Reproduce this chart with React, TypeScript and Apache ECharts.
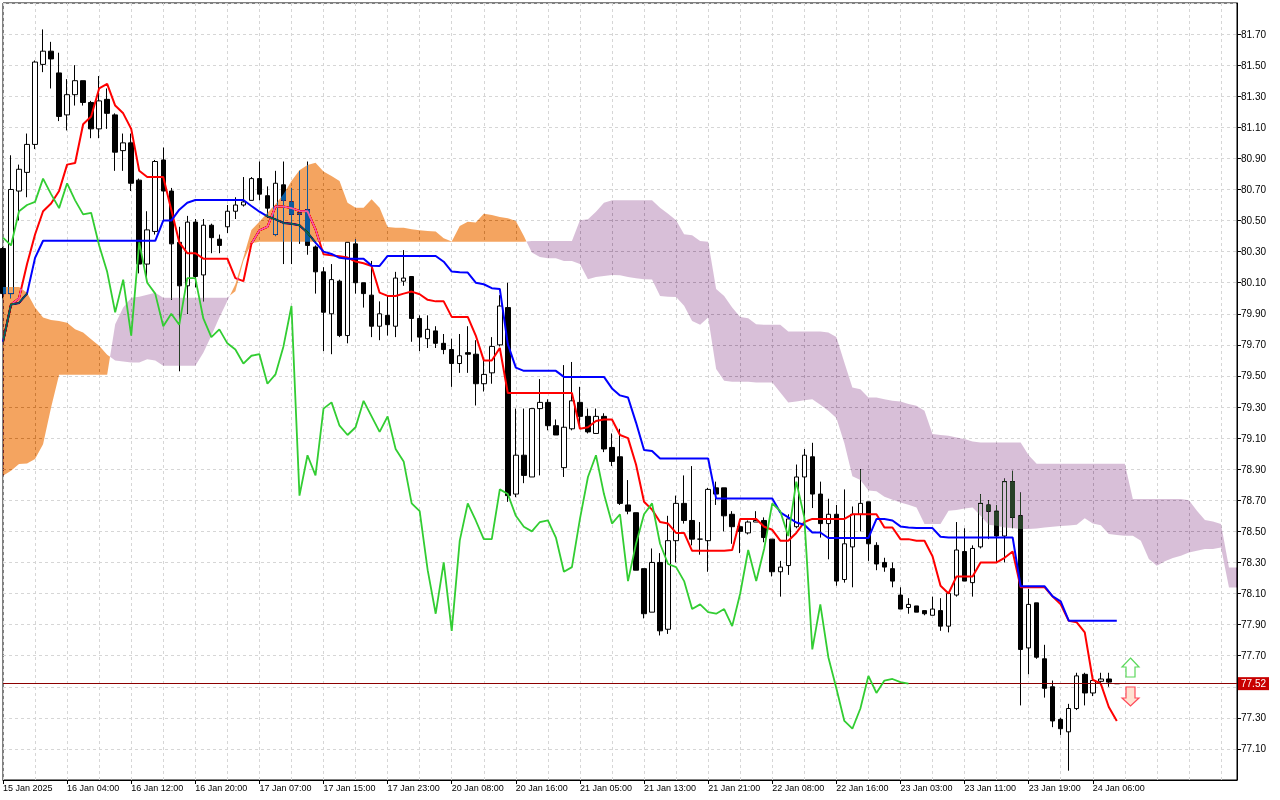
import React, { useEffect, useRef } from "react";
import * as echarts from "echarts";

// ---- time axis ----
const tickBars = [0, 8, 16, 24, 32, 40, 48, 56, 64, 72, 80, 88, 96, 104, 112, 120, 128, 136];
const tickLabels = [
  "15 Jan 2025", "16 Jan 04:00", "16 Jan 12:00", "16 Jan 20:00", "17 Jan 07:00", "17 Jan 15:00",
  "17 Jan 23:00", "20 Jan 08:00", "20 Jan 16:00", "21 Jan 05:00", "21 Jan 13:00", "21 Jan 21:00",
  "22 Jan 08:00", "22 Jan 16:00", "23 Jan 03:00", "23 Jan 11:00", "23 Jan 19:00", "24 Jan 06:00",
];
const totalBars = 155; // 140 price bars + cloud projected ahead

// ---- candles (H1) ----
const opens = [
  80.32, 80.03, 80.69, 80.81, 80.99, 81.505, 81.59, 81.45, 81.18, 81.31,
  81.40, 81.26, 81.09, 81.28, 81.18, 80.95, 81.00, 80.76, 80.22, 80.43,
  80.89, 80.69, 80.36, 80.08, 80.49, 80.15, 80.47, 80.38, 80.46, 80.56,
  80.60, 80.63, 80.77, 80.66, 80.41, 80.73, 80.62, 80.54, 80.57, 80.33,
  80.17, 79.90, 80.11, 79.76, 80.35, 80.10, 80.02, 79.82, 79.89, 79.82,
  80.11, 80.14, 79.87, 79.74, 79.79, 79.71, 79.67, 79.58, 79.65, 79.64,
  79.45, 79.52, 79.70, 79.94, 78.74, 78.99, 78.85, 79.29, 79.33, 79.18,
  78.91, 79.16, 79.33, 79.24, 79.13, 79.24, 79.04, 78.98, 78.67, 78.62,
  78.26, 77.98, 78.30, 77.87, 78.44, 78.68, 78.57, 78.45, 78.44, 78.78,
  78.78, 78.61, 78.53, 78.49, 78.56, 78.57, 78.45, 78.24, 78.28, 78.53,
  78.85, 78.98, 78.74, 78.55, 78.61, 78.19, 78.40, 78.61, 78.69, 78.41,
  78.30, 78.26, 78.09, 78.01, 78.02, 77.99, 77.96, 77.99, 77.89, 78.09,
  78.37, 78.17, 78.40, 78.67, 78.63, 78.47, 78.82, 78.60, 77.75, 78.04,
  77.68, 77.50, 77.29, 77.21, 77.36, 77.58, 77.46, 77.535, 77.55, 77.52,
];
const highs = [
  80.33, 80.92, 80.86, 81.06, 81.53, 81.73, 81.65, 81.58, 81.41, 81.50,
  81.40, 81.27, 81.43, 81.35, 81.19, 81.06, 81.06, 80.77, 80.56, 80.89,
  80.97, 80.71, 80.46, 80.53, 80.51, 80.51, 80.48, 80.41, 80.60, 80.65,
  80.78, 80.78, 80.88, 80.72, 80.82, 80.88, 80.71, 80.82, 80.88, 80.34,
  80.20, 80.22, 80.12, 80.36, 80.38, 80.10, 80.24, 79.98, 80.02, 80.17,
  80.31, 80.14, 79.89, 79.89, 79.82, 79.77, 79.74, 79.77, 79.82, 79.73,
  79.60, 79.75, 80.02, 80.10, 79.29, 79.29, 79.29, 79.48, 79.35, 79.22,
  79.57, 79.59, 79.43, 79.29, 79.29, 79.26, 79.13, 79.16, 78.83, 78.62,
  78.26, 78.39, 78.36, 78.60, 78.73, 78.86, 78.92, 78.56, 78.78, 78.82,
  78.78, 78.63, 78.57, 78.57, 78.63, 78.59, 78.45, 78.31, 78.61, 78.93,
  79.03, 79.07, 78.82, 78.71, 78.67, 78.77, 78.66, 78.90, 78.69, 78.43,
  78.33, 78.30, 78.14, 78.07, 78.02, 77.99, 78.08, 78.07, 78.10, 78.56,
  78.52, 78.41, 78.74, 78.70, 78.67, 78.84, 78.89, 78.75, 78.13, 78.04,
  77.77, 77.54, 77.30, 77.39, 77.59, 77.59, 77.55, 77.59, 77.59, 77.52,
];
const lows = [
  80.00, 80.00, 80.50, 80.65, 80.96, 81.455, 81.35, 81.14, 81.08, 81.24,
  81.24, 81.03, 81.03, 81.09, 80.82, 80.82, 80.69, 80.16, 80.13, 80.41,
  80.50, 79.99, 79.53, 79.90, 80.07, 79.98, 80.29, 80.29, 80.42, 80.51,
  80.59, 80.63, 80.63, 80.52, 80.40, 80.22, 80.22, 80.35, 80.28, 80.03,
  79.66, 79.64, 79.75, 79.71, 80.03, 79.94, 79.75, 79.73, 79.76, 79.75,
  80.08, 79.72, 79.66, 79.68, 79.68, 79.64, 79.43, 79.52, 79.52, 79.31,
  79.40, 79.45, 79.69, 78.69, 78.72, 78.81, 78.85, 78.86, 79.15, 79.12,
  78.85, 79.15, 79.18, 79.13, 79.13, 79.01, 78.92, 78.67, 78.61, 78.25,
  77.94, 77.98, 77.83, 77.84, 78.30, 78.55, 78.41, 78.35, 78.24, 78.67,
  78.50, 78.42, 78.36, 78.48, 78.56, 78.43, 78.21, 78.08, 78.22, 78.52,
  78.54, 78.65, 78.46, 78.32, 78.15, 78.17, 78.14, 78.50, 78.31, 78.25,
  78.24, 78.14, 78.00, 77.97, 77.98, 77.96, 77.96, 77.86, 77.85, 78.08,
  78.18, 78.08, 78.39, 78.45, 78.30, 78.30, 78.52, 77.38, 77.58, 77.68,
  77.43, 77.24, 77.19, 76.96, 77.35, 77.38, 77.44, 77.51, 77.50, 77.52,
];
const closes = [
  80.03, 80.70, 80.83, 80.99, 81.52, 81.59, 81.54, 81.17, 81.31, 81.40,
  81.26, 81.09, 81.27, 81.19, 80.94, 81.00, 80.74, 80.22, 80.44, 80.88,
  80.69, 80.35, 80.08, 80.49, 80.14, 80.47, 80.39, 80.34, 80.56, 80.60,
  80.62, 80.77, 80.67, 80.58, 80.74, 80.63, 80.54, 80.55, 80.34, 80.17,
  79.91, 80.12, 79.76, 80.36, 80.10, 80.03, 79.82, 79.90, 79.83, 80.13,
  80.13, 79.87, 79.75, 79.80, 79.71, 79.67, 79.58, 79.63, 79.64, 79.45,
  79.51, 79.69, 79.95, 78.73, 78.99, 78.86, 79.29, 79.33, 79.18, 79.12,
  79.17, 79.34, 79.24, 79.14, 79.24, 79.03, 78.95, 78.68, 78.63, 78.25,
  77.97, 78.30, 77.86, 78.44, 78.68, 78.57, 78.45, 78.45, 78.77, 78.74,
  78.60, 78.53, 78.50, 78.56, 78.57, 78.46, 78.24, 78.27, 78.58, 78.85,
  78.99, 78.74, 78.55, 78.61, 78.18, 78.42, 78.61, 78.68, 78.42, 78.29,
  78.27, 78.18, 78.00, 78.03, 77.98, 77.97, 78.00, 77.89, 78.10, 78.38,
  78.18, 78.39, 78.68, 78.63, 78.47, 78.82, 78.59, 77.74, 78.03, 77.69,
  77.49, 77.28, 77.23, 77.36, 77.57, 77.46, 77.54, 77.55, 77.53, 77.52,
];
const currentPrice = 77.52;

// ---- Ichimoku lines ----
const tenkan = [
  79.72, 79.96, 80.00, 80.22, 80.41, 80.56, 80.61, 80.69, 80.86, 80.87,
  81.12, 81.17, 81.35, 81.38, 81.24, 81.19, 81.09, 80.82, 80.78, 80.78,
  80.78, 80.57, 80.36, 80.29, 80.29, 80.255, 80.255, 80.255, 80.255, 80.13,
  80.11, 80.35, 80.437, 80.46, 80.59, 80.59, 80.58, 80.562, 80.56, 80.444,
  80.283, 80.276, 80.27, 80.262, 80.236, 80.225, 80.208, 80.036, 80.015, 80.015,
  80.03, 80.043, 80.026, 79.99, 79.98, 79.98, 79.88, 79.88, 79.88, 79.76,
  79.60, 79.60, 79.68, 79.39, 79.39, 79.39, 79.39, 79.39, 79.39, 79.39,
  79.39, 79.39, 79.16, 79.17, 79.21, 79.22, 79.22, 79.12, 79.10, 78.93,
  78.69, 78.64, 78.56, 78.55, 78.49, 78.49, 78.375, 78.375, 78.375, 78.375,
  78.375, 78.38, 78.58, 78.58, 78.58, 78.53, 78.51, 78.44, 78.44, 78.49,
  78.56, 78.58, 78.58, 78.58, 78.58, 78.58, 78.61, 78.61, 78.61, 78.61,
  78.525, 78.525, 78.45, 78.45, 78.44, 78.44, 78.34, 78.15, 78.10, 78.21,
  78.21, 78.21, 78.30, 78.30, 78.30, 78.33, 78.37, 78.14, 78.14, 78.14,
  78.14, 78.08, 78.03, 77.925, 77.915, 77.85, 77.545, 77.52, 77.37, 77.28,
];
const kijun = [
  79.72, 79.96, 79.97, 80.03, 80.26, 80.37, 80.37, 80.37, 80.37, 80.37,
  80.37, 80.37, 80.37, 80.37, 80.37, 80.37, 80.37, 80.37, 80.37, 80.37,
  80.50, 80.50, 80.57, 80.615, 80.632, 80.632, 80.632, 80.632, 80.632, 80.632,
  80.632, 80.594, 80.557, 80.527, 80.508, 80.485, 80.48, 80.47, 80.422, 80.358,
  80.30, 80.285, 80.26, 80.255, 80.255, 80.255, 80.21, 80.208, 80.272, 80.272,
  80.272, 80.272, 80.272, 80.272, 80.272, 80.235, 80.172, 80.168, 80.165, 80.10,
  80.09, 80.065, 80.06, 79.705, 79.554, 79.533, 79.533, 79.533, 79.533, 79.533,
  79.494, 79.494, 79.494, 79.494, 79.494, 79.494, 79.42, 79.375, 79.361, 79.20,
  79.023, 79.017, 78.969, 78.969, 78.969, 78.969, 78.969, 78.969, 78.969, 78.712,
  78.712, 78.712, 78.712, 78.712, 78.712, 78.712, 78.712, 78.622, 78.59, 78.557,
  78.542, 78.493, 78.493, 78.457, 78.457, 78.457, 78.457, 78.457, 78.457, 78.579,
  78.579, 78.57, 78.532, 78.525, 78.521, 78.521, 78.521, 78.465, 78.461, 78.461,
  78.461, 78.461, 78.461, 78.461, 78.461, 78.461, 78.461, 78.146, 78.146, 78.146,
  78.146, 78.081, 78.049, 77.925, 77.925, 77.925, 77.925, 77.925, 77.925, 77.925,
];
const chikou = [
  80.39, 80.34, 80.56, 80.60, 80.62, 80.77, 80.67, 80.58, 80.74, 80.63,
  80.54, 80.55, 80.34, 80.17, 79.91, 80.12, 79.76, 80.36, 80.10, 80.03,
  79.82, 79.90, 79.83, 80.13, 80.13, 79.87, 79.75, 79.80, 79.71, 79.67,
  79.58, 79.63, 79.64, 79.45, 79.51, 79.69, 79.95, 78.73, 78.99, 78.86,
  79.29, 79.33, 79.18, 79.12, 79.17, 79.34, 79.24, 79.14, 79.24, 79.03,
  78.95, 78.68, 78.63, 78.25, 77.97, 78.30, 77.86, 78.44, 78.68, 78.57,
  78.45, 78.45, 78.77, 78.74, 78.60, 78.53, 78.50, 78.56, 78.57, 78.46,
  78.24, 78.27, 78.58, 78.85, 78.99, 78.74, 78.55, 78.61, 78.18, 78.42,
  78.61, 78.68, 78.42, 78.29, 78.27, 78.18, 78.00, 78.03, 77.98, 77.97,
  78.00, 77.89, 78.10, 78.38, 78.18, 78.39, 78.68, 78.63, 78.47, 78.82,
  78.59, 77.74, 78.03, 77.69, 77.49, 77.28, 77.23, 77.36, 77.57, 77.46,
  77.54, 77.55, 77.53, 77.52,
];
const spanA = [
  80.073, 80.073, 80.073, 80.036, 79.94, 79.876, 79.86, 79.854, 79.843, 79.80,
  79.779, 79.736, 79.694, 79.636, 79.60, 79.593, 79.586, 79.586, 79.608, 79.60,
  79.565, 79.565, 79.565, 79.565, 79.565, 79.65, 79.758, 79.876, 79.983, 80.09,
  80.262, 80.44, 80.493, 80.551, 80.605, 80.67, 80.755, 80.823, 80.858, 80.872,
  80.815, 80.787, 80.755, 80.615, 80.583, 80.583, 80.637, 80.583, 80.459, 80.454,
  80.454, 80.444, 80.437, 80.433, 80.43, 80.386, 80.366, 80.465, 80.493, 80.487,
  80.544, 80.536, 80.523, 80.515, 80.497, 80.40, 80.294, 80.266, 80.258, 80.258,
  80.24, 80.24, 80.22, 80.122, 80.137, 80.144, 80.15, 80.148, 80.137, 80.129,
  80.122, 80.12, 80.015, 80.01, 80.008, 79.951, 79.854, 79.829, 79.876, 79.544,
  79.469, 79.462, 79.462, 79.462, 79.458, 79.458, 79.458, 79.393, 79.329, 79.335,
  79.344, 79.35, 79.314, 79.276, 79.229, 79.067, 78.855, 78.83, 78.763, 78.758,
  78.723, 78.703, 78.686, 78.671, 78.654, 78.547, 78.547, 78.547, 78.633, 78.637,
  78.647, 78.654, 78.60, 78.542, 78.536, 78.525, 78.521, 78.515, 78.515, 78.518,
  78.525, 78.53, 78.534, 78.538, 78.542, 78.585, 78.55, 78.54, 78.483, 78.476,
  78.472, 78.472, 78.44, 78.322, 78.279, 78.307, 78.328, 78.343, 78.364, 78.375,
  78.386, 78.386, 78.396, 78.139, 78.139,
];
const spanB = [
  78.858, 78.89, 78.933, 78.937, 78.965, 79.061, 79.297, 79.507, 79.507, 79.507,
  79.507, 79.507, 79.507, 79.507, 79.833, 79.94, 80.004, 80.01, 80.022, 80.036,
  80.004, 80.004, 80.004, 80.004, 80.004, 80.004, 80.004, 80.004, 80.004, 80.045,
  80.24, 80.355, 80.364, 80.364, 80.364, 80.364, 80.364, 80.364, 80.364, 80.364,
  80.364, 80.364, 80.364, 80.364, 80.364, 80.364, 80.364, 80.364, 80.364, 80.364,
  80.364, 80.364, 80.364, 80.364, 80.364, 80.364, 80.364, 80.364, 80.364, 80.364,
  80.364, 80.364, 80.364, 80.364, 80.364, 80.364, 80.369, 80.369, 80.369, 80.369,
  80.369, 80.369, 80.502, 80.508, 80.557, 80.615, 80.63, 80.63, 80.63, 80.63,
  80.63, 80.63, 80.583, 80.544, 80.502, 80.412, 80.405, 80.369, 80.364, 80.06,
  80.015, 79.94, 79.88, 79.872, 79.833, 79.829, 79.829, 79.829, 79.786, 79.786,
  79.786, 79.786, 79.786, 79.779, 79.751, 79.586, 79.425, 79.415, 79.361, 79.361,
  79.35, 79.34, 79.335, 79.319, 79.308, 79.276, 79.126, 79.12, 79.115, 79.104,
  79.094, 79.078, 79.072, 79.072, 79.072, 79.072, 79.072, 79.072, 78.99, 78.935,
  78.935, 78.935, 78.935, 78.935, 78.935, 78.935, 78.935, 78.935, 78.935, 78.935,
  78.935, 78.708, 78.708, 78.708, 78.708, 78.708, 78.708, 78.708, 78.70, 78.633,
  78.573, 78.564, 78.547, 78.268, 78.268,
];

// The cloud is painted like MetaTrader does: with the inverted colour and a
// "difference" blend, so it shows sandybrown / thistle on white and tints what lies under it.
const KUMO_UP_INV = "#0b5b9f"; // shows as #f4a460 on white
const KUMO_DOWN_INV = "#274027"; // shows as #d8bfd8 on white
const GRID_COLOR = "#d6d6d6";
const FONT = "Liberation Sans";

export default function App() {
  const ref = useRef<HTMLDivElement>(null);

  useEffect(() => {
    const host = ref.current;
    if (!host) return;
    const chart = echarts.init(host, null, { renderer: "svg" });

    const categories = Array.from({ length: totalBars }, (_, i) => String(i));
    const labelMap: Record<number, string> = {};
    tickBars.forEach((b, k) => (labelMap[b] = tickLabels[k]));
    const isTick = (idx: number) => labelMap[idx] !== undefined;

    const candleData = opens.map((o, i) => [o, closes[i], lows[i], highs[i]]);

    // contiguous runs of the cloud with the same colour
    const runs: { s: number; e: number; up: boolean }[] = [];
    let start = 0;
    for (let i = 1; i <= spanA.length; i++) {
      const upStart = spanA[start] >= spanB[start];
      if (i === spanA.length || spanA[i] >= spanB[i] !== upStart) {
        runs.push({ s: start, e: i - 1, up: upStart });
        start = i;
      }
    }
    const kumoData = runs.map((r) => [r.s, spanA[r.s], spanB[r.s]]);
    const last = spanA.length - 1;

    const option: any = {
      animation: false,
      backgroundColor: "#ffffff",
      textStyle: { fontFamily: FONT },
      grid: {
        left: 3,
        right: 43,
        top: 3,
        bottom: 20,
        show: true,
        borderColor: "#000",
        borderWidth: 1,
        backgroundColor: "transparent",
      },
      xAxis: {
        type: "category",
        data: categories,
        boundaryGap: false,
        axisLine: { show: true, lineStyle: { color: "#000", width: 1 } },
        axisTick: {
          show: true,
          length: 4,
          interval: (idx: number) => isTick(idx),
          lineStyle: { color: "#000" },
        },
        axisLabel: {
          interval: (idx: number) => isTick(idx),
          formatter: (val: string) => labelMap[parseInt(val, 10)] ?? "",
          align: "left",
          color: "#000",
          fontSize: 9,
          fontFamily: FONT,
          margin: 3,
        },
        splitLine: {
          show: true,
          interval: (idx: number) => idx % 4 === 0,
          lineStyle: { color: GRID_COLOR, type: [3, 3], width: 1 },
        },
      },
      yAxis: {
        type: "value",
        position: "right",
        min: 76.9,
        max: 81.9,
        interval: 0.2,
        axisLine: { show: true, lineStyle: { color: "#000" } },
        axisTick: { show: true, length: 4, lineStyle: { color: "#000" } },
        axisLabel: {
          showMinLabel: false,
          showMaxLabel: false,
          formatter: (v: number) => v.toFixed(2),
          color: "#000",
          fontSize: 10,
          fontFamily: FONT,
          margin: 4,
        },
        splitLine: { show: true, lineStyle: { color: GRID_COLOR, type: [3, 3], width: 1 } },
      },
      series: [
        {
          name: "Price",
          type: "candlestick",
          z: 2,
          data: candleData,
          barWidth: 5,
          itemStyle: {
            color: "#ffffff",
            color0: "#000000",
            borderColor: "#000000",
            borderColor0: "#000000",
            borderWidth: 1,
          },
          markLine: {
            silent: true,
            symbol: ["none", "none"],
            data: [{ yAxis: currentPrice }],
            lineStyle: { color: "#8b0000", width: 1, type: "solid" },
            label: {
              show: true,
              position: "end",
              distance: 1,
              formatter: () => currentPrice.toFixed(2),
              backgroundColor: "#c80000",
              color: "#ffffff",
              fontSize: 10,
              fontFamily: FONT,
              padding: [2, 3, 1, 3],
            },
          },
        },
        {
          name: "Tenkan-sen",
          type: "line",
          z: 3,
          data: tenkan,
          showSymbol: false,
          symbol: "none",
          lineStyle: { color: "#ff0000", width: 2 },
        },
        {
          name: "Kijun-sen",
          type: "line",
          z: 4,
          data: kijun,
          showSymbol: false,
          symbol: "none",
          lineStyle: { color: "#0000ff", width: 2 },
        },
        {
          name: "Kumo",
          type: "custom",
          z: 5,
          data: kumoData,
          encode: { x: 0, y: [1, 2] },
          silent: true,
          renderItem: (params: any, api: any) => {
            const r = runs[params.dataIndex];
            const cA = (i: number) => api.coord([i, spanA[i]]);
            const cB = (i: number) => api.coord([i, spanB[i]]);
            const cross = (i: number) => {
              const d0 = spanA[i] - spanB[i];
              const d1 = spanA[i + 1] - spanB[i + 1];
              const t = d0 / (d0 - d1);
              const p0 = cA(i);
              const p1 = cA(i + 1);
              return [p0[0] + t * (p1[0] - p0[0]), p0[1] + t * (p1[1] - p0[1])];
            };
            const pts: number[][] = [];
            if (r.s > 0) pts.push(cross(r.s - 1));
            for (let i = r.s; i <= r.e; i++) pts.push(cA(i));
            if (r.e < last) pts.push(cross(r.e));
            for (let i = r.e; i >= r.s; i--) pts.push(cB(i));
            return {
              type: "polygon",
              shape: { points: pts },
              style: { fill: r.up ? KUMO_UP_INV : KUMO_DOWN_INV, stroke: "none", blend: "difference" },
            };
          },
        },
        {
          name: "Chikou Span",
          type: "line",
          z: 6,
          data: chikou,
          showSymbol: false,
          symbol: "none",
          lineStyle: { color: "#32cd32", width: 1.8 },
        },
      ],
      graphic: [
        {
          type: "polygon",
          z: 10,
          shape: {
            points: [
              [1130.5, 658], [1139, 667], [1135, 667], [1135, 677],
              [1126, 677], [1126, 667], [1122, 667],
            ],
          },
          style: { fill: "#ffffff", stroke: "#5ad85a", lineWidth: 1.2 },
        },
        {
          type: "polygon",
          z: 10,
          shape: {
            points: [
              [1126, 687], [1135, 687], [1135, 698], [1139, 698],
              [1130.5, 706], [1122, 698], [1126, 698],
            ],
          },
          style: { fill: "#ffe2d2", stroke: "#ff4a5a", lineWidth: 1.2 },
        },
      ],
    };

    const blendFills = new Set([
      KUMO_UP_INV, KUMO_DOWN_INV, "rgb(11,91,159)", "rgb(39,64,39)",
    ]);
    const applyBlend = () => {
      host.querySelectorAll("path, polygon").forEach((el) => {
        const f = (el.getAttribute("fill") || "").toLowerCase().replace(/\s/g, "");
        const node = el as SVGElement;
        if (blendFills.has(f) && node.style.mixBlendMode !== "difference") {
          node.style.mixBlendMode = "difference";
        }
      });
    };

    chart.setOption(option);
    applyBlend();
    chart.on("finished", applyBlend);
    const observer = new MutationObserver(() => applyBlend());
    observer.observe(host, { subtree: true, childList: true, attributes: true, attributeFilter: ["fill", "d"] });
    const raf = requestAnimationFrame(applyBlend);

    return () => {
      cancelAnimationFrame(raf);
      observer.disconnect();
      chart.dispose();
    };
  }, []);

  return (
    <div
      ref={ref}
      style={{ position: "fixed", left: 0, top: 0, width: 1280, height: 800, background: "#ffffff" }}
    />
  );
}
